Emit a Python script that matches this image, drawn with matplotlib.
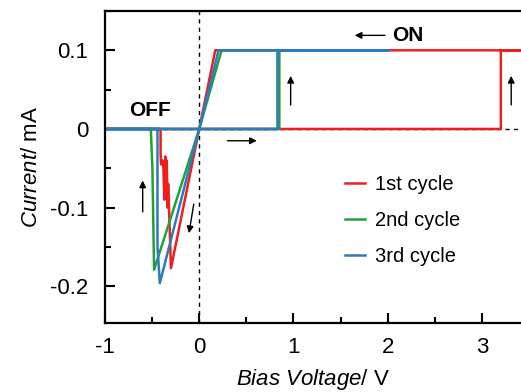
import matplotlib
matplotlib.use("Agg")
import matplotlib.pyplot as plt
from matplotlib.ticker import MultipleLocator

plt.rcParams['font.family'] = ['Liberation Sans', 'DejaVu Sans']
plt.rcParams['mathtext.fontset'] = 'custom'
plt.rcParams['mathtext.rm'] = 'Liberation Sans'
plt.rcParams['mathtext.it'] = 'Liberation Sans:italic'

# sweep traces (V, mA)
red_v = [-1.0, 3.20, 3.20, 3.50, 0.17, 0.0, -0.30, -0.315, -0.33, -0.335, -0.345,
         -0.35, -0.36, -0.37, -0.38, -0.39, -0.405, -0.41, -0.41, -1.0]
red_i = [0.0, 0.0, 0.1, 0.1, 0.1, 0.0, -0.177, -0.12, -0.07, -0.10, -0.04,
         -0.075, -0.035, -0.09, -0.05, -0.04, -0.045, -0.03, 0.0, 0.0]

green_v = [-1.0, 0.85, 0.85, 2.0, 0.237, 0.0, -0.479, -0.497, -0.514, -1.0]
green_i = [0.0, 0.0, 0.1, 0.1, 0.1, 0.0, -0.179, -0.049, 0.0, 0.0]

blue_v = [-1.0, 0.83, 0.83, 2.01, 0.205, 0.0, -0.418, -0.443, -0.443, -1.0]
blue_i = [0.0, 0.0, 0.1, 0.1, 0.1, 0.0, -0.196, -0.15, 0.0, 0.0]

labels = ['1st cycle', '2nd cycle', '3rd cycle']
colors = ['#f01e1e', '#22a03c', '#2b7bc0']

fig = plt.figure(figsize=(5.21, 3.92), dpi=100)
ax = fig.add_axes([0.2015, 0.1753, 0.7985, 0.7967])

ax.axvline(0, color='black', lw=1, ls=(0, (3, 3)), zorder=1)
ax.axhline(0, color='black', lw=1, ls=(0, (3, 3)), zorder=1)

for v, i, c, lab in zip([red_v, green_v, blue_v], [red_i, green_i, blue_i], colors, labels):
    ax.plot(v, i, color=c, lw=1.8, label=lab, zorder=2)

ax.set_xlim(-1, 3.414)
ax.set_ylim(-0.247, 0.15)
ax.xaxis.set_minor_locator(MultipleLocator(0.5))
ax.yaxis.set_minor_locator(MultipleLocator(0.05))
ax.set_yticks([-0.2, -0.1, 0, 0.1])
ax.set_yticklabels(['-0.2', '-0.1', '0', '0.1'])
ax.set_xticks([-1, 0, 1, 2, 3])
ax.set_xticklabels(['-1', '0', '1', '2', '3'])
ax.tick_params(which='major', direction='in', length=7, width=1.5, labelsize=16)
ax.tick_params(axis='y', which='major', pad=12)
ax.tick_params(axis='x', which='major', pad=10)
ax.tick_params(which='minor', direction='in', length=4, width=1.5)
for s in ['left', 'bottom', 'top']:
    ax.spines[s].set_linewidth(1.6)
ax.spines['right'].set_visible(False)

ax.set_xlabel('$\\it{Bias\\ Voltage}$/ V', fontsize=16, labelpad=6)
ax.set_ylabel('$\\it{Current}$/ mA', fontsize=16, labelpad=6)

arrow = dict(arrowstyle='-|>', color='black', lw=1, mutation_scale=10)
ax.annotate('', xy=(1.62, 0.119), xytext=(2.0, 0.119), arrowprops=arrow)
ax.text(2.05, 0.119, 'ON', fontsize=15, fontweight='bold', va='center', ha='left')
ax.text(-0.52, 0.023, 'OFF', fontsize=15, fontweight='bold', va='center', ha='center')
ax.annotate('', xy=(0.64, -0.015), xytext=(0.27, -0.015), arrowprops=arrow)
ax.annotate('', xy=(0.97, 0.071), xytext=(0.97, 0.027), arrowprops=arrow)
ax.annotate('', xy=(3.31, 0.071), xytext=(3.31, 0.027), arrowprops=arrow)
ax.annotate('', xy=(-0.60, -0.062), xytext=(-0.60, -0.109), arrowprops=arrow)
ax.annotate('', xy=(-0.114, -0.136), xytext=(-0.053, -0.092), arrowprops=arrow)

ax.legend(loc='upper left', bbox_to_anchor=(0.577, 0.474), frameon=False, fontsize=14.5,
          handlelength=1.0, handletextpad=0.5, labelspacing=0.85, borderpad=0,
          borderaxespad=0)

fig.savefig('out.png', dpi=100)
